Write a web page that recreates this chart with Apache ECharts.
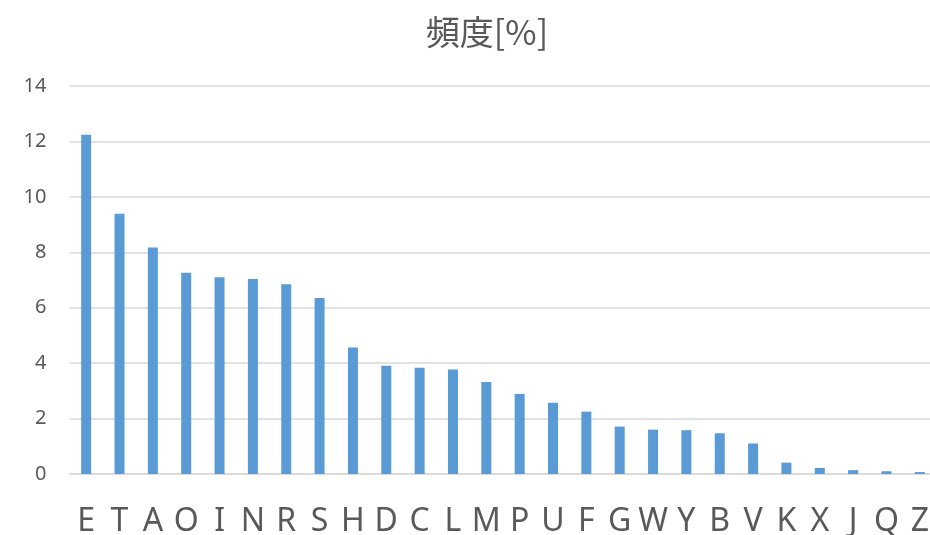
<!DOCTYPE html>
<html>
<head>
<meta charset="utf-8">
<script src="https://cdn.jsdelivr.net/npm/echarts@6/dist/echarts.min.js"></script>
<style>html,body{margin:0;padding:0;background:#fff}#c{width:930px;height:535px}</style>
</head>
<body>
<div id="c"></div>
<script>
const categories = ["E","T","A","O","I","N","R","S","H","D","C","L","M","P","U","F","G","W","Y","B","V","K","X","J","Q","Z"];
const freq = [12.24,9.39,8.17,7.26,7.10,7.04,6.85,6.35,4.56,3.91,3.83,3.77,3.32,2.89,2.57,2.25,1.71,1.60,1.58,1.47,1.10,0.41,0.22,0.14,0.10,0.07];
const titleText = "頻度[%]";

const chart = echarts.init(document.getElementById('c'), null, {renderer:'canvas'});
chart.setOption({
  animation:false,
  backgroundColor:'#ffffff',
  title:{
    text:titleText, left:482, top:10, textAlign:'center',
    textStyle:{fontFamily:'"Noto Sans CJK JP","Noto Sans",sans-serif', fontSize:34, fontWeight:'normal', color:'#595959'}
  },
  grid:{left:69.5, right:-6.5, top:86, bottom:61, containLabel:false, outerBoundsMode:'none'},
  xAxis:{
    type:'category', data:categories,
    axisLine:{show:true, lineStyle:{color:'#D9D9D9', width:1.5}},
    axisTick:{show:false},
    axisLabel:{fontFamily:'"Noto Sans",sans-serif', fontSize:32, color:'#595959', margin:32, interval:0}
  },
  yAxis:{
    type:'value', min:0, max:14, interval:2,
    axisLine:{show:false}, axisTick:{show:false},
    splitLine:{lineStyle:{color:'#D9D9D9', width:1.5}},
    axisLabel:{fontFamily:'"Noto Sans",sans-serif', fontSize:20, color:'#595959', margin:23}
  },
  series:[{
    type:'bar', data:freq, barWidth:10,
    itemStyle:{color:'#5B9BD5'}
  }]
});
</script>
</body>
</html>
